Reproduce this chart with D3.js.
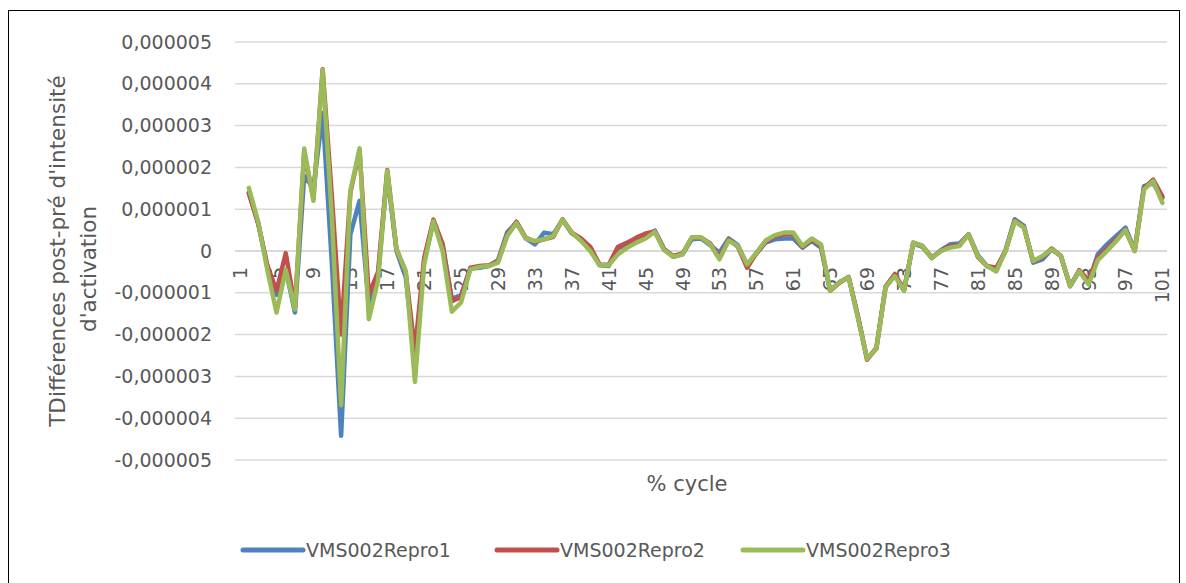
<!DOCTYPE html>
<html>
<head>
    <meta charset="utf-8">
    <script src="https://cdnjs.cloudflare.com/ajax/libs/d3/7.8.5/d3.min.js"></script>
    <style>
        body { margin: 0; background: #fff; }
        text { font-family: "DejaVu Sans", sans-serif; fill: #595959; }
    </style>
</head>
<body>
<div id="chart"></div>

<script>

    // categories 1..101 (% cycle)
    var cycles = d3.range(1, 102);

    // values in millionths (x 1e-6); first category has no value
    var repro1 = [null, 1.40, 0.67, -0.35, -1.05, -0.45, -1.47, 1.80, 1.50, 3.30,
        -0.30, -4.42, 0.40, 1.20, -1.30, -0.60, 1.85, 0.00, -0.63, -2.60,
        -0.25, 0.70, 0.15, -1.15, -1.05, -0.42, -0.40, -0.36, -0.22, 0.45,
        0.68, 0.30, 0.16, 0.44, 0.40, 0.75, 0.42, 0.28, 0.08, -0.34,
        -0.36, 0.08, 0.10, 0.22, 0.34, 0.49, 0.05, -0.14, -0.08, 0.28,
        0.30, 0.14, -0.04, 0.30, 0.14, -0.34, -0.06, 0.20, 0.28, 0.30,
        0.30, 0.08, 0.24, 0.08, -0.95, -0.75, -0.63, -1.58, -2.58, -2.34,
        -0.87, -0.58, -0.95, 0.18, 0.10, -0.17, 0.02, 0.16, 0.18, 0.40,
        -0.10, -0.36, -0.45, 0.02, 0.76, 0.60, -0.28, -0.20, 0.04, -0.12,
        -0.84, -0.48, -0.75, -0.08, 0.16, 0.36, 0.56, 0.02, 1.55, 1.62,
        1.27];
    var repro2 = [null, 1.38, 0.67, -0.35, -0.95, -0.05, -1.35, 2.35, 1.25, 4.35,
        1.30, -2.00, 1.40, 2.40, -1.05, -0.50, 1.94, 0.05, -0.50, -2.40,
        -0.16, 0.75, 0.16, -1.20, -1.10, -0.40, -0.36, -0.34, -0.25, 0.38,
        0.70, 0.32, 0.22, 0.28, 0.34, 0.76, 0.44, 0.30, 0.10, -0.32,
        -0.33, 0.10, 0.20, 0.32, 0.42, 0.47, 0.04, -0.12, -0.06, 0.32,
        0.32, 0.18, -0.15, 0.28, 0.10, -0.40, -0.05, 0.22, 0.35, 0.40,
        0.40, 0.10, 0.27, 0.12, -0.95, -0.76, -0.62, -1.55, -2.60, -2.32,
        -0.85, -0.55, -0.93, 0.20, 0.12, -0.15, 0.00, 0.12, 0.14, 0.40,
        -0.14, -0.36, -0.40, 0.00, 0.73, 0.56, -0.25, -0.14, 0.06, -0.12,
        -0.84, -0.46, -0.70, -0.15, 0.05, 0.28, 0.50, 0.00, 1.50, 1.71,
        1.31];
    var repro3 = [null, 1.51, 0.71, -0.45, -1.47, -0.45, -1.40, 2.45, 1.20, 4.33,
        0.80, -3.69, 1.43, 2.46, -1.63, -0.71, 1.92, 0.04, -0.48, -3.13,
        -0.32, 0.71, 0.00, -1.45, -1.23, -0.44, -0.38, -0.36, -0.28, 0.36,
        0.67, 0.30, 0.24, 0.28, 0.36, 0.75, 0.44, 0.24, 0.00, -0.34,
        -0.34, -0.08, 0.08, 0.20, 0.30, 0.46, 0.02, -0.14, -0.08, 0.33,
        0.33, 0.16, -0.20, 0.25, 0.12, -0.32, -0.04, 0.25, 0.38, 0.44,
        0.44, 0.12, 0.30, 0.16, -0.95, -0.75, -0.63, -1.59, -2.58, -2.34,
        -0.87, -0.60, -0.95, 0.20, 0.12, -0.17, 0.00, 0.08, 0.12, 0.40,
        -0.12, -0.36, -0.49, 0.00, 0.71, 0.56, -0.24, -0.12, 0.04, -0.12,
        -0.84, -0.48, -0.80, -0.22, 0.00, 0.24, 0.50, 0.00, 1.47, 1.67,
        1.15];

    var seriesNames = ['VMS002Repro1', 'VMS002Repro2', 'VMS002Repro3'];
    var seriesColors = ['#4f81bd', '#c0504d', '#9bbb59'];
    var yTicks = [-5e-6, -4e-6, -3e-6, -2e-6, -1e-6, 0, 1e-6, 2e-6, 3e-6, 4e-6, 5e-6];
    var xLabels = cycles.filter(function(d) { return (d - 1) % 4 === 0; });

    var unit = 1e-6;
    var width = 1186, height = 583;
    var plot = { left: 235, right: 1167, top: 42, bottom: 460 };

    var svg = d3.select('#chart').append('svg')
        .attr('width', width)
        .attr('height', height);

    // chart frame
    svg.append('rect')
        .attr('x', 8.5).attr('y', 10.5)
        .attr('width', 1171).attr('height', 600)
        .attr('fill', 'none')
        .attr('stroke', '#000')
        .attr('stroke-width', 1);

    var xScale = d3.scalePoint()
        .domain(cycles)
        .range([plot.left, plot.right])
        .padding(0.5);

    var yScale = d3.scaleLinear()
        .domain([-5e-6, 5e-6])
        .range([plot.bottom, plot.top]);

    var locale = d3.formatLocale({ decimal: ',', thousands: ' ', grouping: [3], currency: ['', ' €'], minus: '-' });
    var fmt = locale.format('.6f');

    // gridlines
    svg.append('g').selectAll('line')
        .data(yTicks)
        .enter()
        .append('line')
        .attr('x1', plot.left)
        .attr('x2', plot.right)
        .attr('y1', function(d) { return yScale(d); })
        .attr('y2', function(d) { return yScale(d); })
        .attr('stroke', '#d9d9d9')
        .attr('stroke-width', function(d) { return d === 0 ? 2 : 1.5; });

    // y tick labels
    svg.append('g').selectAll('text')
        .data(yTicks)
        .enter()
        .append('text')
        .attr('x', 212)
        .attr('y', function(d) { return yScale(d); })
        .attr('dy', '0.35em')
        .attr('text-anchor', 'end')
        .style('font-size', '19px')
        .text(function(d) { return d === 0 ? '0' : fmt(d); });

    // x tick labels, rotated, hanging under the zero line
    svg.append('g').selectAll('text')
        .data(xLabels)
        .enter()
        .append('text')
        .attr('transform', function(d) {
            return 'translate(' + (xScale(d) + 7) + ',' + (yScale(0) + 16) + ') rotate(-90)';
        })
        .attr('text-anchor', 'end')
        .style('font-size', '19px')
        .text(function(d) { return d; });

    // lines
    var line = d3.line()
        .defined(function(d) { return d.v !== null; })
        .x(function(d) { return xScale(d.c); })
        .y(function(d) { return yScale(d.v * unit); });

    [repro1, repro2, repro3].forEach(function(vals, k) {
        var pts = cycles.map(function(c, i) { return { c: c, v: vals[i] }; });
        svg.append('path')
            .datum(pts)
            .attr('d', line)
            .attr('fill', 'none')
            .attr('stroke', seriesColors[k])
            .attr('stroke-width', 4.5)
            .attr('stroke-linejoin', 'round')
            .attr('stroke-linecap', 'round');
    });

    // axis titles
    var yt = svg.append('text')
        .attr('transform', 'translate(65,251) rotate(-90)')
        .attr('text-anchor', 'middle')
        .style('font-size', '21.5px');
    yt.append('tspan').attr('x', 0).attr('dy', 0).text("TDifférences post-pré d'intensité");
    yt.append('tspan').attr('x', -18).attr('dy', 31).text("d'activation");

    svg.append('text')
        .attr('x', 687)
        .attr('y', 491)
        .attr('text-anchor', 'middle')
        .style('font-size', '21px')
        .text('% cycle');

    // legend
    var legendX = [243, 497, 743];
    var legend = svg.append('g').selectAll('g')
        .data(seriesNames)
        .enter()
        .append('g')
        .attr('transform', function(d, i) { return 'translate(' + legendX[i] + ',550)'; });

    legend.append('line')
        .attr('x1', 0).attr('x2', 60)
        .attr('y1', 0).attr('y2', 0)
        .attr('stroke', function(d, i) { return seriesColors[i]; })
        .attr('stroke-width', 5)
        .attr('stroke-linecap', 'round');

    legend.append('text')
        .attr('x', 63)
        .attr('y', 0)
        .attr('dy', '0.35em')
        .style('font-size', '19px')
        .text(function(d) { return d; });

</script>
</body>
</html>
